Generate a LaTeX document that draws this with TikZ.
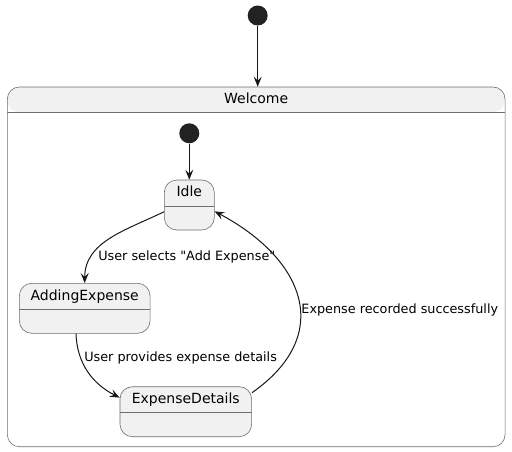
\documentclass[tikz,border=0pt]{standalone}
\usepackage{fontspec}
\setmainfont{DejaVu Sans}[Ligatures=TeXOff]
\usetikzlibrary{
    arrows.meta,
    positioning, calc
}
\definecolor{statefill}{HTML}{F1F1F1}
\definecolor{stateline}{HTML}{181818}
\definecolor{stateborder}{HTML}{6E6E6E}
\definecolor{dotfill}{HTML}{222222}
\tikzset{
    dot/.style={circle, fill=dotfill, inner sep=0pt, minimum size=20pt}, % preset style for a start point
    state/.style={draw=stateborder, line width=0.6pt, fill=statefill,
        rounded corners=12.5pt, inner sep=0pt, minimum height=50pt,
        path picture={\draw[stateborder, line width=0.6pt]
            ([yshift=-26pt]path picture bounding box.north west) --
            ([yshift=-26pt]path picture bounding box.north east);},
        label={[statename]center:#1}}, % preset style for a state box
    statename/.style={anchor=center, yshift=12pt, inner sep=0pt,
        text height=10.5pt, text depth=3pt, font=\fontsize{14}{16}\selectfont},
    composite/.style={draw=stateborder, line width=0.6pt, fill=white,
        rounded corners=12pt, inner sep=0pt,
        path picture={
            \fill[statefill] (path picture bounding box.north west) rectangle
                ([yshift=-25pt]path picture bounding box.north east);
            \draw[stateborder, line width=0.6pt]
                ([yshift=-25pt]path picture bounding box.north west) --
                ([yshift=-25pt]path picture bounding box.north east);}},
    title/.style={inner sep=0pt, text height=10.5pt, text depth=3pt,
        font=\fontsize{14}{16}\selectfont},
    edgelabel/.style={anchor=west, inner sep=1pt, text height=9.5pt, text depth=3pt,
        font=\fontsize{12.8}{15}\selectfont}, % preset style for a transition text
    arr/.style={-{Stealth[length=10pt, width=8pt, inset=4pt]}, draw=stateline, line width=1pt},
}

\begin{document}
\begin{tikzpicture}[x=1pt, y=1pt]
        \useasboundingbox (0, 0) rectangle (512, -451);
        \node[dot] (start) at (257.7, -15.5) {};
        \node[composite, minimum width=497.7pt, minimum height=359.7pt] (welcome) at (256.2, -266.85) {};
        \node[title] (welcomeTitle) at ([yshift=-13pt]welcome.north) {Welcome};
        \node[dot] (innerStart) at (189.3, -133.3) {};
        \node[state=Idle, minimum width=50pt] (idle) at (189.3, -205) {};
        \node[state=AddingExpense, minimum width=130.7pt] (adding) at (84.7, -308.3) {};
        \node[state=ExpenseDetails, minimum width=131.7pt] (details) at (185.8, -411.7) {};
        \draw[arr] (start) -- (start |- welcome.north);
        \draw[arr] (innerStart) -- (idle);
        \draw[arr] (idle.195) to[out=206, in=90]
            node[edgelabel, pos=0.75, xshift=5pt] (lblSelect) {User selects "Add Expense"} (adding.north);
        \draw[arr] (adding.251) to[out=-88, in=153]
            node[edgelabel, pos=0.3, xshift=2pt] (lblProvide) {User provides expense details} (details.168);
        \draw[arr] (details.16) to[out=35, in=-28, looseness=1.4]
            node[edgelabel, pos=0.45, yshift=-3pt] (lblRecorded) {Expense recorded successfully} (idle.346);
    \end{tikzpicture}
\end{document}
